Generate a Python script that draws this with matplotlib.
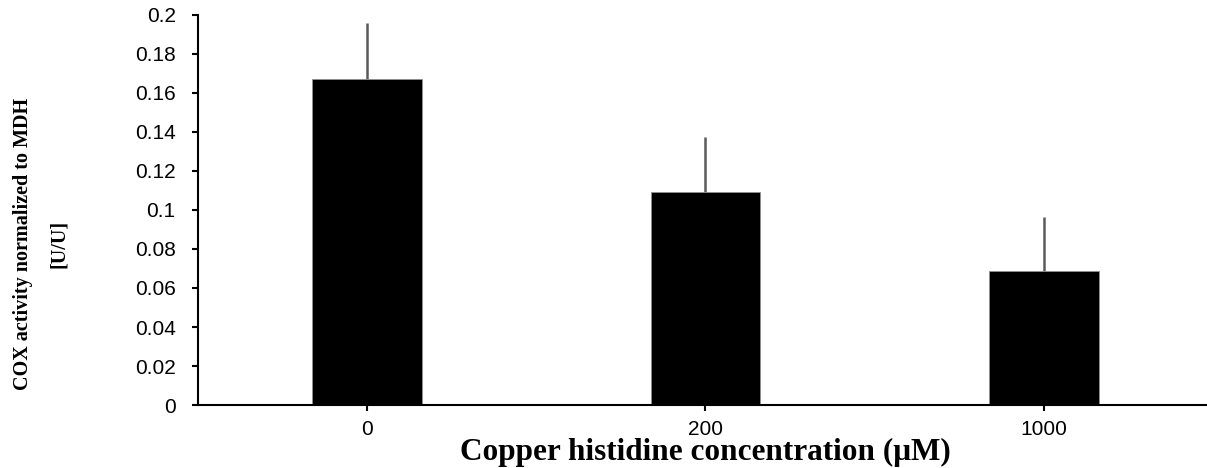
import matplotlib.pyplot as plt
import numpy as np

# COX activity per copper histidine dose (mean, upper SD)
concentrations = ["0", "200", "1000"]
cox_activity = [0.1672, 0.1091, 0.0687]
cox_sd = [0.0285, 0.0283, 0.0277]
y_ticks = [0, 0.02, 0.04, 0.06, 0.08, 0.1, 0.12, 0.14, 0.16, 0.18, 0.2]

fig = plt.figure(figsize=(12.07, 4.68), dpi=100)
ax = fig.add_axes([0.164, 0.1346, 0.841, 0.8334])

x = np.arange(len(concentrations))
ax.bar(x, cox_activity, width=0.325, color="black", edgecolor="#909090",
       linewidth=0.6, zorder=2)
ax.errorbar(x, cox_activity, yerr=[np.zeros(len(cox_sd)), cox_sd], fmt="none",
            ecolor="#5a5a5a", elinewidth=1.8, capsize=0, zorder=1)

ax.set_xlim(-0.5, 2.5)
ax.set_ylim(0, 0.2)
ax.set_xticks(x)
ax.set_xticklabels(concentrations, fontfamily="Liberation Sans", fontsize=15)
ax.set_yticks(y_ticks)
ax.set_yticklabels([f"{t:g}" for t in y_ticks], fontfamily="Liberation Sans",
                   fontsize=15)

for side in ("top", "right"):
    ax.spines[side].set_visible(False)
for side in ("left", "bottom"):
    ax.spines[side].set_linewidth(1.5)
ax.tick_params(axis="both", direction="out", length=4, width=1.5)
ax.tick_params(axis="y", pad=12)
ax.tick_params(axis="x", pad=7)

fig.text(0.584, 1 - 452 / 468, "Copper histidine concentration (\u03bcM)",
         ha="center", va="center", fontfamily="Liberation Serif",
         fontweight="bold", fontsize=22.5)
fig.text(41 / 1207, 1 - 244 / 468, "COX activity normalized to MDH\n[U/U]",
         ha="center", va="center", rotation=90, multialignment="center",
         fontfamily="Liberation Serif", fontweight="bold", fontsize=14.5,
         linespacing=2.1)

fig.savefig("out.png", dpi=100)
